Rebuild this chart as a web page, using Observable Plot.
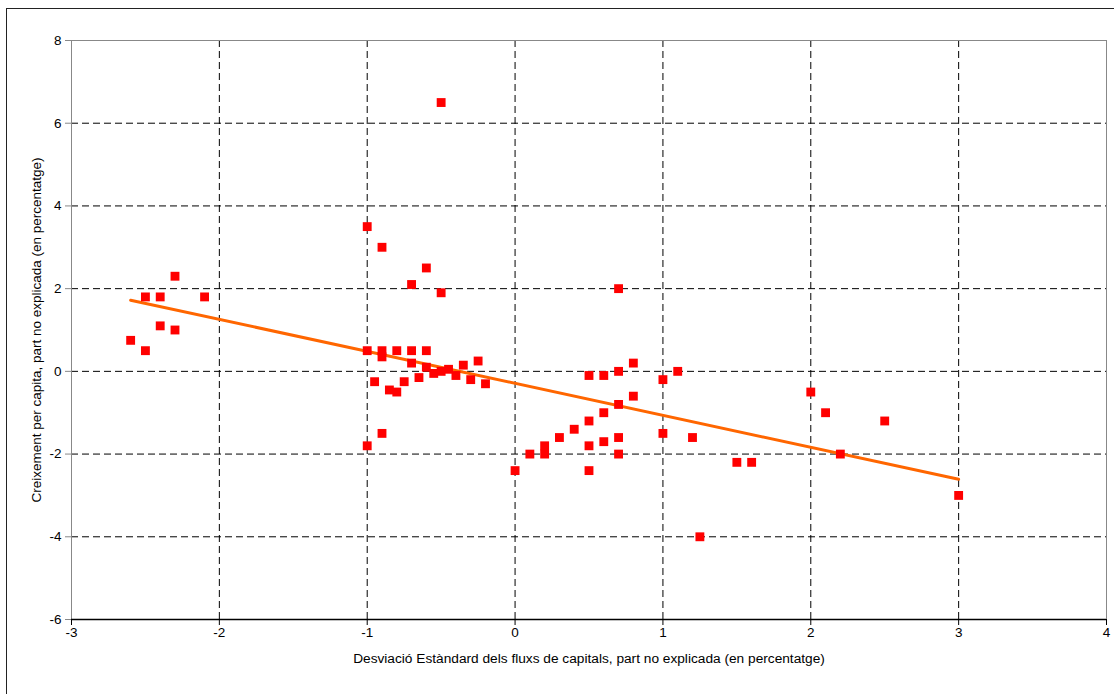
<!DOCTYPE html>
<html><head><meta charset="utf-8">
<script src="https://cdn.jsdelivr.net/npm/d3@7"></script>
<script src="https://cdn.jsdelivr.net/npm/@observablehq/plot@0.6"></script>
<style>
body{margin:0;background:#fff;font-family:Arial,"Liberation Sans",sans-serif;}
#wrap{position:relative;width:1114px;height:694px;overflow:hidden;}
#border{position:absolute;left:6px;top:8px;width:1200px;height:800px;border:1px solid #222;}
#chart{position:absolute;left:0;top:0;}
</style></head><body>
<div id="wrap"><div id="border"></div><div id="chart"></div></div>
<script>
const xs = [-2.6,-2.5,-2.5,-2.4,-2.4,-2.3,-2.3,-2.1,
  -1.0,-1.0,-1.0,-0.95,-0.9,-0.9,-0.9,-0.9,-0.85,-0.8,-0.8,-0.75,-0.7,-0.7,-0.7,-0.65,-0.6,-0.6,-0.6,-0.55,-0.5,-0.5,-0.5,-0.45,-0.4,-0.35,-0.3,-0.25,-0.2,
  0,0.1,0.2,0.2,0.3,0.4,0.5,0.5,0.5,0.5,0.6,0.6,0.6,0.7,0.7,0.7,0.7,0.7,0.8,0.8,1.0,1.0,1.1,1.2,1.25,1.5,1.6,2.0,2.1,2.2,2.5,3.0];
const ys = [0.75,1.8,0.5,1.8,1.1,2.3,1.0,1.8,
  3.5,0.5,-1.8,-0.25,3.0,0.5,0.35,-1.5,-0.45,0.5,-0.5,-0.25,2.1,0.5,0.2,-0.15,2.5,0.5,0.1,-0.05,6.5,1.9,0.0,0.05,-0.1,0.15,-0.2,0.25,-0.3,
  -2.4,-2.0,-1.8,-2.0,-1.6,-1.4,-0.1,-1.2,-1.8,-2.4,-0.1,-1.0,-1.7,2.0,0.0,-0.8,-1.6,-2.0,0.2,-0.6,-0.2,-1.5,0.0,-1.6,-4.0,-2.2,-2.2,-0.5,-1.0,-2.0,-1.2,-3.0];
const xTicks = [-3,-2,-1,0,1,2,3,4];
const yTicks = [-6,-4,-2,0,2,4,6,8];
const trendX = [-2.6, 3.0];
const trendY = [1.72, -2.61];
const xLabel = "Desviació Estàndard dels fluxs de capitals, part no explicada (en percentatge)";
const yLabel = "Creixement per capita, part no explicada (en percentatge)";

const points = xs.map((x, i) => ({x, y: ys[i]}));
const trend = trendX.map((x, i) => ({x, y: trendY[i]}));
const fmt = d => String(d);

const chart = Plot.plot({
  width: 1114, height: 694,
  marginLeft: 71, marginRight: 8, marginTop: 40, marginBottom: 75,
  style: {fontFamily: 'Arial, "Liberation Sans", sans-serif', fontSize: "13px", background: "transparent", overflow: "visible", color: "#000"},
  x: {domain: [-3, 4]},
  y: {domain: [-6, 8]},
  marks: [
    Plot.ruleX(xTicks.filter(d => d > -3 && d < 4), {stroke: "#000", strokeDasharray: "7,4", strokeWidth: 1}),
    Plot.ruleY(yTicks.filter(d => d > -6 && d < 8), {stroke: "#000", strokeDasharray: "7,4", strokeWidth: 1}),
    Plot.frame({stroke: "#888"}),
    Plot.axisX({ticks: xTicks, tickSize: 6, text: null, label: null, stroke: "#000"}),
    Plot.axisY({ticks: yTicks, tickSize: 6, text: null, label: null, stroke: "#888"}),
    Plot.text(xTicks, {x: d => d, frameAnchor: "bottom", dy: 17, text: fmt, fill: "#000", fontSize: 13.5, textAnchor: "middle"}),
    Plot.text(yTicks, {y: d => d, frameAnchor: "left", dx: -10, text: fmt, fill: "#000", fontSize: 13.5, textAnchor: "end"}),
    Plot.ruleY([-6], {stroke: "#000", strokeWidth: 1.5}),
    Plot.line(trend, {x: "x", y: "y", stroke: "#FF6600", strokeWidth: 3}),
    Plot.dot(points, {x: "x", y: "y", symbol: "square", r: 5, fill: "#FF0000"}),
    Plot.text([xLabel], {frameAnchor: "bottom", dy: 43, text: d => d, fill: "#000", fontSize: 13.7, textAnchor: "middle"}),
    Plot.text([yLabel], {frameAnchor: "left", dx: -35, rotate: -90, text: d => d, fill: "#000", fontSize: 13.5, textAnchor: "middle"})
  ]
});
document.getElementById("chart").appendChild(chart);
</script>
</body></html>
